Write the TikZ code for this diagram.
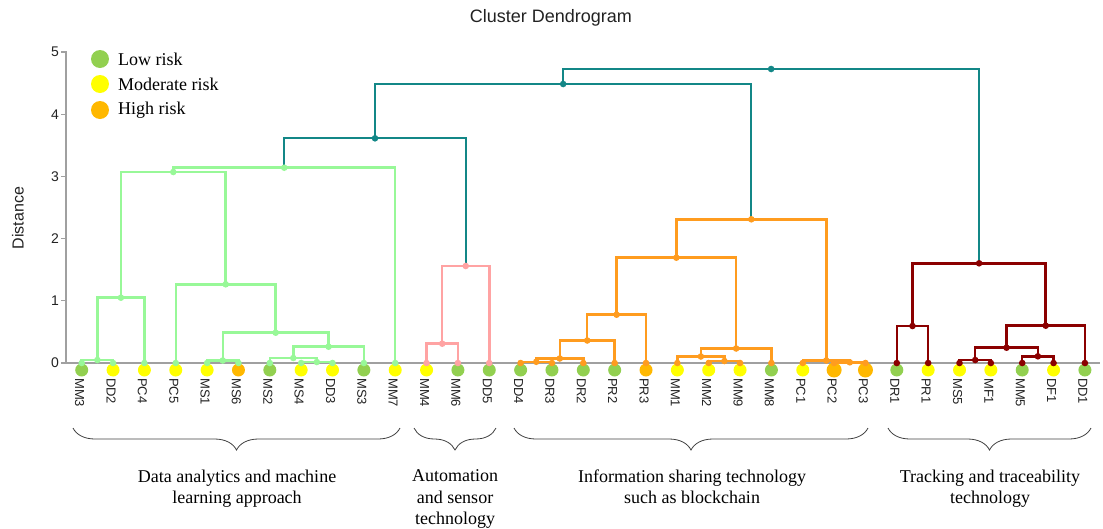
\documentclass[tikz,border=0pt]{standalone}
\usepackage{fontspec}
\setmainfont{Liberation Serif}
\setsansfont{Liberation Sans}
\usetikzlibrary{calc,decorations.pathreplacing}
\definecolor{lowc}{HTML}{92D050}
\definecolor{modc}{HTML}{FFFF00}
\definecolor{highc}{HTML}{FFB800}
\definecolor{cgreen}{HTML}{98F898}
\definecolor{cpink}{HTML}{FFA3A3}
\definecolor{corange}{HTML}{FF9C1F}
\definecolor{cred}{HTML}{8B0000}
\definecolor{cteal}{HTML}{138787}
\definecolor{axisg}{HTML}{A0A0A0}
\definecolor{txtg}{HTML}{222222}
\newcommand\mk[4]{\path let \p1=(#2), \p2=(#3) in coordinate (#1) at ({0.5*\x1+0.5*\x2},{-#4pt});}
\tikzset{
  gl/.style={line width=2.5pt,cgreen},
  pl/.style={line width=2.5pt,cpink},
  ol/.style={line width=2.5pt,corange},
  rl/.style={line width=2.5pt,cred},
  tl/.style={line width=2.2pt,cteal},
  axisline/.style={line width=1.6pt,axisg},
  ticklab/.style={font=\sffamily\fontsize{14}{16}\selectfont,anchor=east,inner sep=0,text=txtg},
  leaflab/.style={font=\sffamily\fontsize{13}{15}\selectfont,rotate=-90,anchor=west,inner sep=0,text=txtg},
  legtext/.style={font=\fontsize{18}{20}\selectfont,anchor=west,inner sep=0},
  grouptext/.style={font=\fontsize{18}{21.5}\selectfont,align=center,anchor=north,inner sep=0},
  bracestyle/.style={draw=black!75,line width=0.8pt,decorate,decoration={brace,mirror,amplitude=22pt}}
}
\begin{document}
\begin{tikzpicture}[x=1pt,y=-1pt,line join=miter]
\useasboundingbox (0,0) rectangle (1103,528);
% title and axis
\node[font=\sffamily\fontsize{18}{20}\selectfont,text=txtg] (title) at (551,18) {Cluster Dendrogram};
\node[font=\sffamily\fontsize{16}{18}\selectfont,rotate=90,text=txtg] (ylab) at (18,218) {Distance};
\coordinate (ax0) at (66,363);
\coordinate (ax5) at (66,51);
\coordinate (axr) at (1100,363);
\draw[axisline] (ax5) -- (ax0) -- (axr);
\foreach \v/\yy in {0/363,1/300.8,2/238.6,3/176.4,4/114.2,5/52}{
  \coordinate (tk\v) at (61,\yy);
  \draw[axisline,line width=1.3pt] (tk\v) -- ++(5,0);
  \node[ticklab] (tl\v) at (59,\yy) {\v};
}
% legend
\fill[lowc] (100,59) circle (9pt);
\fill[modc] (100,84) circle (9pt);
\fill[highc] (100,110) circle (9pt);
\node[legtext] (leg1) at (118,59) {Low risk};
\node[legtext] (leg2) at (118,84) {Moderate risk};
\node[legtext] (leg3) at (118,110) {High risk};
% leaves
\foreach \n/\r/\c/\s [count=\i from 0] in {MM3/lowc/cgreen/6.5,DD2/modc/cgreen/6.5,PC4/modc/cgreen/6.5,PC5/modc/cgreen/6.5,MS1/modc/cgreen/6.5,MS6/highc/cgreen/6.5,MS2/lowc/cgreen/6.5,MS4/modc/cgreen/6.5,DD3/modc/cgreen/6.5,MS3/lowc/cgreen/6.5,MM7/modc/cgreen/6.5,MM4/modc/cpink/6.5,MM6/lowc/cpink/6.5,DD5/lowc/cpink/6.5,DD4/lowc/corange/6.5,DR3/lowc/corange/6.5,DR2/lowc/corange/6.5,PR2/lowc/corange/6.5,PR3/highc/corange/6.5,MM1/modc/corange/6.5,MM2/modc/corange/6.5,MM9/modc/corange/6.5,MM8/lowc/corange/6.5,PC1/modc/corange/6.5,PC2/highc/corange/7.5,PC3/highc/corange/7.5,DR1/lowc/cred/6.5,PR1/modc/cred/6.5,MS5/modc/cred/6.5,MF1/modc/cred/6.5,MM5/lowc/cred/6.5,DF1/modc/cred/6.5,DD1/lowc/cred/6.5}{
  \coordinate (\n) at ({81.7+31.35*\i},363);
  \fill[\r] ($(\n)+(0,7)$) circle (\s pt);
  \node[leaflab] (lab\n) at ($(\n)+(-2,15)$) {\n};
}
% merges
\mk{g1}{MM3}{DD2}{360}
\mk{g2}{g1}{PC4}{297.7}
\mk{g3}{MS1}{MS6}{360.5}
\mk{g4}{MS4}{DD3}{362}
\mk{g5}{MS2}{g4}{358}
\mk{g6}{g5}{MS3}{346.7}
\mk{g7}{g3}{g6}{332.7}
\mk{g8}{PC5}{g7}{284.3}
\mk{g9}{g2}{g8}{172}
\mk{g10}{g9}{MM7}{167.7}
\mk{p1}{MM4}{MM6}{343.7}
\mk{p2}{p1}{DD5}{266}
\mk{t1}{g10}{p2}{138.3}
\mk{o1}{DD4}{DR3}{361.8}
\mk{o2}{o1}{DR2}{358.5}
\mk{o3}{o2}{PR2}{340.5}
\mk{o4}{o3}{PR3}{314.7}
\mk{o5}{MM2}{MM9}{361}
\mk{o6}{MM1}{o5}{356.5}
\mk{o7}{o6}{MM8}{348.5}
\mk{o8}{o4}{o7}{257.7}
\mk{o9}{PC2}{PC3}{362.3}
\mk{o10}{PC1}{o9}{360.5}
\mk{o11}{o8}{o10}{219.3}
\mk{t2}{t1}{o11}{84}
\mk{r1}{DR1}{PR1}{326}
\mk{r2}{MS5}{MF1}{360}
\mk{r3}{MM5}{DF1}{356.3}
\mk{r4}{r2}{r3}{347.7}
\mk{r5}{r4}{DD1}{325.7}
\mk{r6}{r1}{r5}{263.3}
\mk{t3}{t2}{r6}{69}
% teal links
\draw[tl] (t2) |- (t3) -| (r6);
\draw[tl] (t1) |- (t2) -| (o11);
\draw[tl] (g10) |- (t1) -| (p2);
% green
\draw[gl] (MM3) |- (g1) -| (DD2);
\draw[gl] (g1) |- (g2) -| (PC4);
\draw[gl] (MS1) |- (g3) -| (MS6);
\draw[gl] (MS4) |- (g4) -| (DD3);
\draw[gl] (MS2) |- (g5) -| (g4);
\draw[gl] (g5) |- (g6) -| (MS3);
\draw[gl] (g3) |- (g7) -| (g6);
\draw[gl] (PC5) |- (g8) -| (g7);
\draw[gl] (g2) |- (g9) -| (g8);
\draw[gl] (g9) |- (g10) -| (MM7);
% pink
\draw[pl] (MM4) |- (p1) -| (MM6);
\draw[pl] (p1) |- (p2) -| (DD5);
% orange
\draw[ol] (DD4) |- (o1) -| (DR3);
\draw[ol] (o1) |- (o2) -| (DR2);
\draw[ol] (o2) |- (o3) -| (PR2);
\draw[ol] (o3) |- (o4) -| (PR3);
\draw[ol] (MM2) |- (o5) -| (MM9);
\draw[ol] (MM1) |- (o6) -| (o5);
\draw[ol] (o6) |- (o7) -| (MM8);
\draw[ol] (o4) |- (o8) -| (o7);
\draw[ol] (PC2) |- (o9) -| (PC3);
\draw[ol] (PC1) |- (o10) -| (o9);
\draw[ol] (o8) |- (o11) -| (o10);
% red
\draw[rl] (DR1) |- (r1) -| (PR1);
\draw[rl] (MS5) |- (r2) -| (MF1);
\draw[rl] (MM5) |- (r3) -| (DF1);
\draw[rl] (r2) |- (r4) -| (r3);
\draw[rl] (r4) |- (r5) -| (DD1);
\draw[rl] (r1) |- (r6) -| (r5);
% dots
\foreach \n in {t1,t2,t3} \fill[cteal] (\n) circle (3.3pt);
\foreach \n in {g1,g2,g3,g4,g5,g6,g7,g8,g9,g10,MM3,DD2,PC4,PC5,MS1,MS6,MS2,MS4,DD3,MS3,MM7} \fill[cgreen] (\n) circle (3.3pt);
\foreach \n in {p1,p2,MM4,MM6,DD5} \fill[cpink] (\n) circle (3.3pt);
\foreach \n in {o1,o2,o3,o4,o5,o6,o7,o8,o9,o10,o11,DD4,DR3,DR2,PR2,PR3,MM1,MM2,MM9,MM8,PC1,PC2,PC3} \fill[corange] (\n) circle (3.3pt);
\foreach \n in {r1,r2,r3,r4,r5,r6,DR1,PR1,MS5,MF1,MM5,DF1,DD1} \fill[cred] (\n) circle (3.3pt);
% braces
\coordinate (b1a) at (73,428); \coordinate (b1b) at (400,428);
\coordinate (b2a) at (414,428); \coordinate (b2b) at (496,428);
\coordinate (b3a) at (514,428); \coordinate (b3b) at (868,428);
\coordinate (b4a) at (888,428); \coordinate (b4b) at (1091,428);
\draw[bracestyle] (b1a) -- (b1b);
\draw[bracestyle] (b2a) -- (b2b);
\draw[bracestyle] (b3a) -- (b3b);
\draw[bracestyle] (b4a) -- (b4b);
\node[grouptext] (grp1) at (237,469.5) {Data analytics and machine\\learning approach};
\node[grouptext] (grp2) at (455,469.5) {Automation\\and sensor\\technology};
\node[grouptext] (grp3) at (692,469.5) {Information sharing technology\\such as blockchain};
\node[grouptext] (grp4) at (990,469.5) {Tracking and traceability\\technology};
\end{tikzpicture}
\end{document}
